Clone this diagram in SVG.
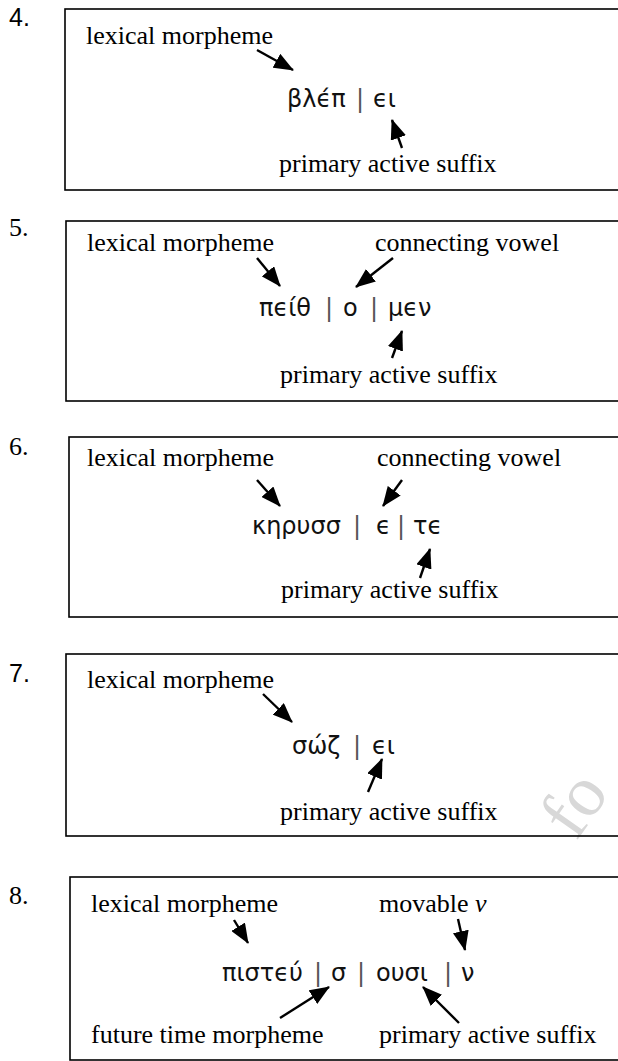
<svg xmlns="http://www.w3.org/2000/svg" width="618" height="1061" viewBox="0 0 618 1061">
<style>
.box{fill:none;stroke:#000;stroke-width:1.6}
.num{font-family:"Liberation Serif","Times New Roman",serif;font-size:26px;fill:#000}
.nums{font-family:"Liberation Sans",Arial,sans-serif;font-size:25px;fill:#000}
.lbl{font-family:"Liberation Serif","Times New Roman",serif;font-size:26px;fill:#000}
.gk{font-family:"DejaVu Sans","Noto Sans",sans-serif;font-size:24px;fill:#111}
.bar{fill:#555}
.it{font-style:italic}
.arr{stroke:#000;stroke-width:2.4;fill:none;marker-end:url(#ah)}
.wm{font-family:"Liberation Serif","Times New Roman",serif;font-size:72px;fill:#d8d8d8}
</style>
<defs>
<marker id="ah" markerUnits="userSpaceOnUse" markerWidth="20" markerHeight="16" refX="19" refY="8" orient="auto">
<path d="M0,0 L20,8 L0,16 z" fill="#000"/>
</marker>
</defs>
<rect width="618" height="1061" fill="#fff"/>
<text class="wm" x="576" y="842" transform="rotate(-55 576 842)">fo</text>

<g id="item4">
<text class="nums" x="9" y="26">4.</text>
<rect class="box" x="65" y="9" width="700" height="181"/>
<text class="lbl" x="86" y="44">lexical morpheme</text>
<text class="gk" y="107"><tspan x="287">βλϵ́π</tspan><tspan class="bar" x="348.4"> |</tspan><tspan x="365.4"> ϵι</tspan></text>
<text class="lbl" x="279" y="172">primary active suffix</text>
</g>

<g id="item5">
<text class="num" x="9" y="236">5.</text>
<rect class="box" x="66" y="221" width="700" height="180"/>
<text class="lbl" x="87" y="251">lexical morpheme</text>
<text class="lbl" x="375" y="251">connecting vowel</text>
<text class="gk" y="316"><tspan x="259">πϵίθ</tspan><tspan class="bar" x="317.4"> |</tspan><tspan x="335.4"> ο</tspan><tspan class="bar" x="362.4"> |</tspan><tspan x="380.4"> μϵν</tspan></text>
<text class="lbl" x="280" y="383">primary active suffix</text>
</g>

<g id="item6">
<text class="num" x="9" y="455">6.</text>
<rect class="box" x="69" y="437" width="700" height="180"/>
<text class="lbl" x="87" y="466">lexical morpheme</text>
<text class="lbl" x="377" y="466">connecting vowel</text>
<text class="gk" y="534"><tspan x="252">κηρυσσ</tspan><tspan class="bar" x="345.4"> |</tspan><tspan x="368.4"> ϵ</tspan><tspan class="bar" x="389.4"> |</tspan><tspan x="405.4"> τϵ</tspan></text>
<text class="lbl" x="281" y="598">primary active suffix</text>
</g>

<g id="item7">
<text class="nums" x="9" y="682">7.</text>
<rect class="box" x="66" y="654" width="700" height="182"/>
<text class="lbl" x="87" y="688">lexical morpheme</text>
<text class="gk" y="754"><tspan x="292">σώζ</tspan><tspan class="bar" x="345.4"> |</tspan><tspan x="364.4"> ϵι</tspan></text>
<text class="lbl" x="280" y="820">primary active suffix</text>
</g>

<g id="item8">
<text class="num" x="9" y="904">8.</text>
<rect class="box" x="70" y="877" width="700" height="183"/>
<text class="lbl" x="91" y="912">lexical morpheme</text>
<text class="lbl" x="379" y="912">movable <tspan class="it">ν</tspan></text>
<text class="gk" y="981"><tspan x="222">πιστϵύ</tspan><tspan class="bar" x="306.4"> |</tspan><tspan x="323.4"> σ</tspan><tspan class="bar" x="349.4"> |</tspan><tspan x="368.4"> ουσι</tspan><tspan class="bar" x="436.4"> |</tspan><tspan x="453.4"> ν</tspan></text>
<text class="lbl" x="91" y="1043">future time morpheme</text>
<text class="lbl" x="379" y="1043">primary active suffix</text>
</g>

<g id="connectors">
<line class="arr" x1="257" y1="50" x2="293" y2="70"/>
<line class="arr" x1="402" y1="148" x2="392" y2="120"/>
<line class="arr" x1="257" y1="258" x2="280" y2="286"/>
<line class="arr" x1="393" y1="258" x2="356" y2="287"/>
<line class="arr" x1="392" y1="358" x2="402" y2="331"/>
<line class="arr" x1="257" y1="480" x2="280" y2="506"/>
<line class="arr" x1="402" y1="480" x2="383" y2="506"/>
<line class="arr" x1="420" y1="578" x2="430" y2="549"/>
<line class="arr" x1="263" y1="694" x2="292" y2="722"/>
<line class="arr" x1="368" y1="792" x2="382" y2="759"/>
<line class="arr" x1="234" y1="920" x2="248" y2="943"/>
<line class="arr" x1="458" y1="919" x2="465" y2="950"/>
<line class="arr" x1="280" y1="1018" x2="329" y2="987"/>
<line class="arr" x1="459" y1="1023" x2="423" y2="987"/>
</g>
</svg>
